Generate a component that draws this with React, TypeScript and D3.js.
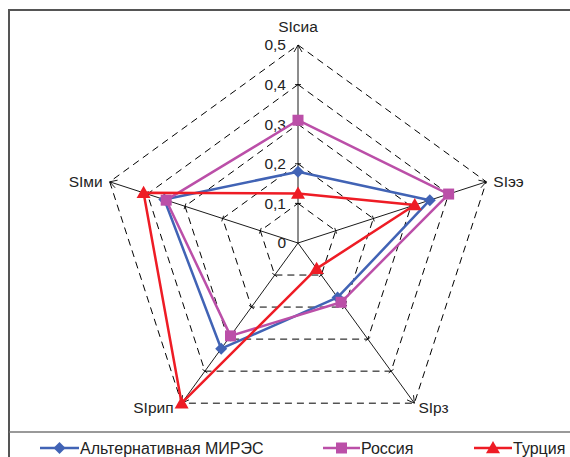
import React from "react";
import * as d3 from "d3";

const axesLabels = ["SIсиа", "SIээ", "SIрз", "SIрип", "SIми"];
const altMires = [0.18, 0.35, 0.17, 0.33, 0.355];
const russia = [0.31, 0.4, 0.185, 0.29, 0.35];
const turkey = [0.125, 0.31, 0.08, 0.5, 0.41];
const tickValues = [0, 0.1, 0.2, 0.3, 0.4, 0.5];
const tickLabels = ["0", "0,1", "0,2", "0,3", "0,4", "0,5"];
const seriesNames = ["Альтернативная МИРЭС", "Россия", "Турция"];

const W = 570;
const H = 457;
const cx = 298;
const cy = 243;
const font = "'Liberation Sans', Arial, sans-serif";

const r = d3.scaleLinear().domain([0, 0.5]).range([0, 198]);
const angle = d3
  .scalePoint<number>()
  .domain(d3.range(axesLabels.length + 1))
  .range([0, 2 * Math.PI]);

function pt(i: number, v: number): [number, number] {
  const a = angle(i % axesLabels.length)!;
  return [cx + r(v) * Math.sin(a), cy - r(v) * Math.cos(a)];
}

const colors = ["#4163B5", "#BB4FA8", "#EE1C25"];
const seriesData = [altMires, russia, turkey];

function Marker({ kind, x, y, color }: { kind: number; x: number; y: number; color: string }) {
  if (kind === 0) {
    const s = 6;
    return <path d={`M${x},${y - s}L${x + s},${y}L${x},${y + s}L${x - s},${y}Z`} fill={color} />;
  }
  if (kind === 1) {
    const s = 5.5;
    return <rect x={x - s} y={y - s} width={2 * s} height={2 * s} fill={color} />;
  }
  const s = 7;
  return <path d={`M${x},${y - s}L${x + s},${y + s * 0.75}L${x - s},${y + s * 0.75}Z`} fill={color} />;
}

export default function App() {
  const line = d3.line<number>().x((v, i) => pt(i, v)[0]).y((v, i) => pt(i, v)[1]).curve(d3.curveLinearClosed);
  const n = axesLabels.length;
  const labelPos = [
    { dx: 0, dy: -18.5, anchor: "middle" },
    { dx: 7, dy: 0, anchor: "start" },
    { dx: 4, dy: 4, anchor: "start" },
    { dx: -8, dy: 4, anchor: "end" },
    { dx: -7, dy: 0, anchor: "end" },
  ];
  const legend = [
    { x1: 40, x2: 79 },
    { x1: 323, x2: 360 },
    { x1: 474, x2: 512 },
  ];
  return (
    <svg width={W} height={H} style={{ position: "absolute", left: 0, top: 0 }} fontFamily={font}>
      <rect x={0} y={0} width={W} height={H} fill="white" />
      {/* frame */}
      <path d={`M9,${H}L9,10L${W + 5},10`} fill="none" stroke="#555" strokeWidth={2} />
      <line x1={9} x2={W} y1={432} y2={432} stroke="#777" strokeWidth={1.5} />
      {/* grid */}
      {tickValues.slice(1).map((t) => (
        <path
          key={t}
          d={line(d3.range(n).map(() => t)) || ""}
          fill="none"
          stroke="#000"
          strokeWidth={1}
          strokeDasharray="7,5"
        />
      ))}
      {/* axes */}
      {d3.range(n).map((i) => {
        const [x, y] = pt(i, 0.5);
        const a = angle(i)!;
        const ux = Math.sin(a), uy = -Math.cos(a);
        const px = -uy, py = ux;
        const ah = 7, aw = 4;
        return (
          <g key={i}>
            <line x1={cx} y1={cy} x2={x} y2={y} stroke="#000" strokeWidth={0.9} />
            <path
              d={`M${x - ux * ah + px * aw},${y - uy * ah + py * aw}L${x},${y}L${x - ux * ah - px * aw},${y - uy * ah - py * aw}`}
              fill="none"
              stroke="#000"
              strokeWidth={0.9}
            />
            {tickValues.slice(1, 5).map((t) => {
              const [tx, ty] = pt(i, t);
              return (
                <line key={t} x1={tx + px * 3} y1={ty + py * 3} x2={tx - px * 3} y2={ty - py * 3} stroke="#000" strokeWidth={0.9} />
              );
            })}
          </g>
        );
      })}
      {/* tick labels */}
      {tickValues.map((t, k) => (
        <text key={t} x={286} y={cy - r(t)} dy="0.35em" textAnchor="end" fontSize={15.5} fill="#222">
          {tickLabels[k]}
        </text>
      ))}
      {/* axis labels */}
      {axesLabels.map((lab, i) => {
        const [x, y] = pt(i, 0.5);
        const p = labelPos[i];
        return (
          <text key={lab} x={x + p.dx} y={y + p.dy} dy="0.35em" textAnchor={p.anchor as any} fontSize={15.5} fill="#222">
            {lab}
          </text>
        );
      })}
      {/* series */}
      {seriesData.map((d, s) => (
        <g key={s}>
          <path d={line(d) || ""} fill="none" stroke={colors[s]} strokeWidth={2.5} strokeLinejoin="round" />
          {d.map((v, i) => {
            const [x, y] = pt(i, v);
            return <Marker key={i} kind={s} x={x} y={y} color={colors[s]} />;
          })}
        </g>
      ))}
      {/* legend */}
      {legend.map((l, s) => (
        <g key={s}>
          <line x1={l.x1} x2={l.x2} y1={448} y2={448} stroke={colors[s]} strokeWidth={2.5} />
          <Marker kind={s} x={(l.x1 + l.x2) / 2} y={448} color={colors[s]} />
          <text x={l.x2 + 1} y={448} dy="0.35em" fontSize={16} fill="#222">
            {seriesNames[s]}
          </text>
        </g>
      ))}
    </svg>
  );
}
